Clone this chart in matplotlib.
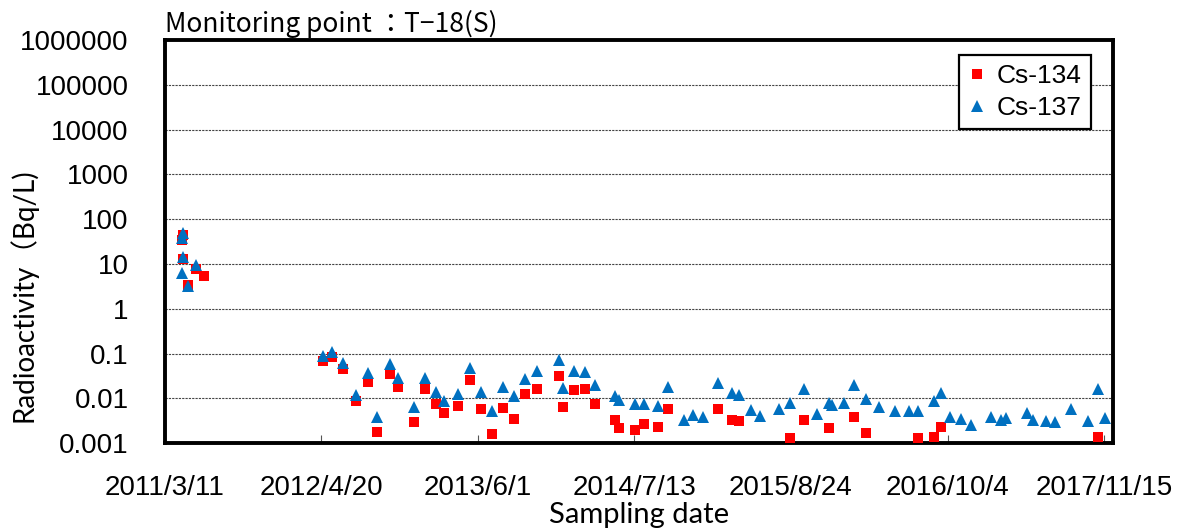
import numpy as np
import pandas as pd
import matplotlib
matplotlib.use("Agg")
import matplotlib.pyplot as plt
from matplotlib.ticker import FixedLocator, NullLocator

nan = np.nan

# sampling dates
dates = [
    "2011-04-24", "2011-04-25", "2011-04-26", "2011-04-28", "2011-05-09", "2011-05-31", "2011-06-21",
    "2012-04-24", "2012-05-19", "2012-06-17", "2012-07-19", "2012-08-19", "2012-09-12", "2012-10-16",
    "2012-11-05", "2012-12-18",
    "2013-01-15", "2013-02-12", "2013-03-06", "2013-04-12", "2013-05-12", "2013-06-10", "2013-07-08",
    "2013-08-07", "2013-09-04", "2013-10-01", "2013-11-02", "2013-12-28",
    "2014-01-08", "2014-02-05", "2014-03-06", "2014-04-02", "2014-05-24", "2014-06-04", "2014-07-15",
    "2014-08-06", "2014-09-12", "2014-10-08", "2014-11-20", "2014-12-12",
    "2015-01-07", "2015-02-16", "2015-03-24", "2015-04-12", "2015-05-13", "2015-06-05", "2015-07-25",
    "2015-08-21", "2015-09-26", "2015-10-31", "2015-11-30", "2015-12-09",
    "2016-01-08", "2016-02-03", "2016-03-05", "2016-04-10", "2016-05-20", "2016-06-25", "2016-07-20",
    "2016-08-29", "2016-09-18", "2016-10-10", "2016-11-07", "2016-12-03",
    "2017-01-26", "2017-02-19", "2017-03-04", "2017-04-29", "2017-05-15", "2017-06-16", "2017-07-09",
    "2017-08-22", "2017-10-04", "2017-10-31", "2017-11-17",
]

# Cs-134 (Bq/L), nan = not shown
cs134 = [
    35, nan, 45, 13, 3.4, 7.9, 5.5,
    0.067, 0.084, 0.045, 0.0085, 0.023, 0.0018, 0.035, 0.018, 0.0029,
    0.016, 0.0074, 0.0046, 0.0068, 0.025, 0.0058, 0.0016, 0.0062, 0.0035, 0.0124, 0.016, 0.032,
    0.0063, 0.0155, 0.016, 0.0075, 0.0033, 0.0022, 0.0020, 0.0027, 0.0023, 0.0057, nan, nan,
    nan, 0.0057, 0.0033, 0.0031, nan, nan, nan, 0.00128, 0.0033, nan, 0.0022, nan,
    nan, 0.0038, 0.0017, nan, nan, nan, 0.00128, 0.00139, 0.00225, nan, nan, nan,
    nan, nan, nan, nan, nan, nan, nan, nan, nan, 0.00139, nan,
]

# Cs-137 (Bq/L)
cs137 = [
    38, 6.2, 50, 14, 3.3, 9.3, nan,
    0.087, 0.109, 0.062, 0.012, 0.037, 0.0038, 0.057, 0.029, 0.0063,
    0.029, 0.0138, 0.0089, 0.0126, 0.048, 0.0138, 0.0052, 0.018, 0.011, 0.027, 0.041, 0.071,
    0.017, 0.040, 0.039, 0.020, 0.011, 0.0092, 0.0074, 0.0074, 0.0068, 0.018, 0.0033, 0.0043,
    0.0039, 0.022, 0.0131, 0.012, 0.0055, 0.0040, 0.0057, 0.0078, 0.016, 0.0045, 0.0080, 0.0071,
    0.0078, 0.020, 0.0097, 0.0065, 0.0052, 0.0052, 0.0052, 0.0085, 0.0131, 0.0039, 0.0034, 0.0025,
    0.0039, 0.0033, 0.0037, 0.0048, 0.0033, 0.0031, 0.0030, 0.0057, 0.0031, 0.016, 0.0037,
]

tick_dates = ["2011-03-11", "2012-04-20", "2013-06-01", "2014-07-13",
              "2015-08-24", "2016-10-04", "2017-11-15"]
tick_labels = ["2011/3/11", "2012/4/20", "2013/6/1", "2014/7/13",
               "2015/8/24", "2016/10/4", "2017/11/15"]
y_ticks = [0.001, 0.01, 0.1, 1, 10, 100, 1000, 10000, 100000, 1000000]
y_labels = ["0.001", "0.01", "0.1", "1", "10", "100", "1000", "10000", "100000", "1000000"]

x = pd.to_datetime(dates)

fig = plt.figure(figsize=(11.86, 5.30), dpi=100)
ax = fig.add_axes([0.139, 0.164, 0.7995, 0.7605])

ax.plot(x, cs134, linestyle="none", marker="s", markersize=7.8,
        color="#FF0000", markeredgewidth=0, label="Cs-134", zorder=3)
ax.plot(x, cs137, linestyle="none", marker="^", markersize=8.2,
        color="#0070C0", markeredgewidth=0, label="Cs-137", zorder=4)

ax.set_yscale("log")
ax.set_ylim(0.001, 1000000)
ax.set_xlim(pd.Timestamp("2011-03-11"), pd.Timestamp("2017-12-08"))

ax.yaxis.set_major_locator(FixedLocator(y_ticks))
ax.yaxis.set_minor_locator(NullLocator())
ax.set_yticklabels(y_labels)
ax.set_xticks(pd.to_datetime(tick_dates))
ax.set_xticklabels(tick_labels)

ax.grid(axis="y", which="major", linestyle=(0, (2, 1)), color="#444444", linewidth=0.8)
for s in ax.spines.values():
    s.set_linewidth(2.8)
    s.set_color("black")

ax.tick_params(axis="x", direction="in", length=6, width=0.8, color="#555555",
               labelsize=20, pad=23)
ax.tick_params(axis="y", direction="in", length=0, labelsize=20, pad=26)
for lab in ax.get_xticklabels() + ax.get_yticklabels():
    lab.set_family("Liberation Sans")

ax.set_xlabel("Sampling date", family=["Lato", "Noto Sans CJK JP"], fontsize=21, labelpad=1)
ax.set_ylabel("Radioactivity（Bq/L)", family=["Lato", "Noto Sans CJK JP"], fontsize=20)
ax.yaxis.set_label_coords(-0.134, 0.367)

ax.text(0.0, 1.006, "Monitoring point ：T−18(S)", transform=ax.transAxes,
        ha="left", va="bottom", fontsize=19, family=["Noto Sans CJK JP", "DejaVu Sans"])

leg = ax.legend(loc="upper right", bbox_to_anchor=(0.977, 0.963), borderaxespad=0,
                prop={"family": "Liberation Sans", "size": 19}, fancybox=False,
                edgecolor="black", framealpha=1, handlelength=0.7, handletextpad=0.4,
                borderpad=0.35, labelspacing=0.3)
leg.get_frame().set_linewidth(1.6)

fig.savefig("out.png", dpi=100)
